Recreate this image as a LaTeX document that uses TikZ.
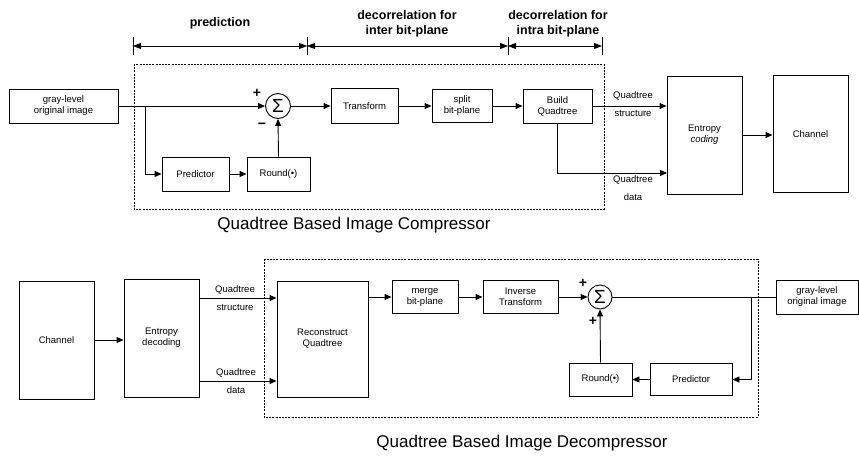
\documentclass[tikz,border=0pt]{standalone}
\usepackage{fontspec}
\setmainfont{Liberation Sans}
\usetikzlibrary{arrows.meta}
\begin{document}
\begin{tikzpicture}[x=1pt,y=-1pt,
  blk/.style={draw, line width=0.9pt, inner sep=0pt, align=center, font=\fontsize{9.5}{11}\selectfont},
  lbl/.style={font=\fontsize{9.5}{11}\selectfont, inner sep=0pt},
  hdr/.style={font=\bfseries\fontsize{12.5}{15}\selectfont, align=center, inner sep=0pt},
  captxt/.style={font=\fontsize{17}{20}\selectfont, inner sep=0pt},
  sgn/.style={font=\bfseries\fontsize{14}{14}\selectfont, inner sep=0pt},
  sumn/.style={draw, circle, line width=0.9pt, minimum size=25pt, inner sep=0pt, font=\fontsize{19}{19}\selectfont},
  ln/.style={line width=0.9pt},
  arr/.style={ln, -{Triangle[length=7pt,width=6pt]}},
  dimarr/.style={ln, {Triangle[length=8pt,width=6pt]}-{Triangle[length=8pt,width=6pt]}},
  dots/.style={line width=0.9pt, dash pattern=on 2pt off 1.2pt},
]
\useasboundingbox (0,0) rectangle (859,456);

% ---------------- Compressor ----------------
\coordinate (t1) at (133,46);
\coordinate (t2) at (307,46);
\coordinate (t3) at (508,46);
\coordinate (t4) at (602,46);
\foreach \t in {t1,t2,t3,t4} \draw[ln] ([yshift=9pt]\t) -- ([yshift=-9pt]\t);
\draw[dimarr] (t1) -- (t2);
\draw[dimarr] (t2) -- (t3);
\draw[dimarr] (t3) -- (t4);
\node[hdr] (h1) at (220,23) {prediction};
\node[hdr] (h2) at (407,24) {decorrelation for\\inter bit-plane};
\node[hdr] (h3) at (558,24) {decorrelation for\\intra bit-plane};

\draw[dots] (134,64) rectangle (604,209);

\node[blk, minimum width=109pt, minimum height=34pt] (gl1) at (63.5,106) {gray-level\\original image};
\node[sumn] (s1) at (278,106) {Σ};
\node[blk, minimum width=67pt, minimum height=35pt] (tr) at (364.5,106) {Transform};
\node[blk, minimum width=60pt, minimum height=33pt] (sp) at (462,106) {split\\bit-plane};
\node[blk, minimum width=69pt, minimum height=34pt] (bq) at (557.5,106) {Build\\Quadtree};
\node[blk, minimum width=67pt, minimum height=34pt] (pr1) at (195.5,174) {Predictor};
\node[blk, minimum width=63pt, minimum height=34pt] (rd1) at (278.5,174) {Round(•)};
\node[blk, minimum width=75pt, minimum height=118pt] (en1) at (704.5,135) {Entropy\\\textit{coding}};
\node[blk, minimum width=75pt, minimum height=117pt] (ch1) at (810.5,134) {Channel};

\coordinate (b1) at (145,106);
\coordinate (d1) at (667,173);
\draw[arr] (gl1.east) -- (s1.west);
\draw[arr] (b1) |- (pr1.west);
\draw[arr] (pr1.east) -- (rd1.west);
\draw[arr] (rd1.north) -- (s1.south);
\draw[arr] (s1.east) -- (tr.west);
\draw[arr] (tr.east) -- (sp.west);
\draw[arr] (sp.east) -- (bq.west);
\draw[arr] (bq.east) -- (bq.east -| en1.west);
\draw[arr] (bq.south) |- (d1);
\draw[arr] (en1.east) -- (en1.east -| ch1.west);

\node[sgn] (p1) at (257,93) {+};
\node[sgn] (m1) at (262,126) {−};
\node[lbl] (l1) at (633,96) {Quadtree};
\node[lbl] (l2) at (633,113) {structure};
\node[lbl] (l3) at (633,180) {Quadtree};
\node[lbl] (l4) at (633,197) {data};

\node[captxt] (c1) at (354,225) {Quadtree Based Image Compressor};

% ---------------- Decompressor ----------------
\draw[dots] (264,259) rectangle (758,417);

\node[blk, minimum width=75pt, minimum height=118pt] (ch2) at (56.5,340) {Channel};
\node[blk, minimum width=75pt, minimum height=118pt] (en2) at (161.5,338) {Entropy\\decoding};
\node[blk, minimum width=91pt, minimum height=116pt] (rq) at (322.5,339) {Reconstruct\\Quadtree};
\node[blk, minimum width=66pt, minimum height=33pt] (mg) at (425,297) {merge\\bit-plane};
\node[blk, minimum width=75pt, minimum height=33pt] (it) at (520.5,297) {Inverse\\Transform};
\node[sumn, minimum size=24pt] (s2) at (600,297) {Σ};
\node[blk, minimum width=63pt, minimum height=33pt] (rd2) at (600.5,379.5) {Round(•)};
\node[blk, minimum width=82pt, minimum height=32pt] (pr2) at (691,379.5) {Predictor};
\node[blk, minimum width=82pt, minimum height=34pt] (gl2) at (817,297) {gray-level\\original image};

\coordinate (qs) at (199,298);
\coordinate (qd) at (199,381);
\coordinate (b2) at (751,297);
\draw[arr] (ch2.east) -- (ch2.east -| en2.west);
\draw[arr] (qs) -- (qs -| rq.west);
\draw[arr] (qd) -- (qd -| rq.west);
\draw[arr] (rq.east |- mg.west) -- (mg.west);
\draw[arr] (mg.east) -- (it.west);
\draw[arr] (it.east) -- (s2.west);
\draw[ln] (s2.east) -- (gl2.west);
\draw[arr] (b2) |- (pr2.east);
\draw[arr] (pr2.west) -- (rd2.east);
\draw[arr] (rd2.north) -- (s2.south);

\node[sgn] (p2) at (583,283) {+};
\node[sgn] (p3) at (593,321) {+};
\node[lbl] (l5) at (235,290) {Quadtree};
\node[lbl] (l6) at (235,307) {structure};
\node[lbl] (l7) at (236,373) {Quadtree};
\node[lbl] (l8) at (236,390) {data};

\node[captxt] (c2) at (522,443) {Quadtree Based Image Decompressor};
\end{tikzpicture}
\end{document}
